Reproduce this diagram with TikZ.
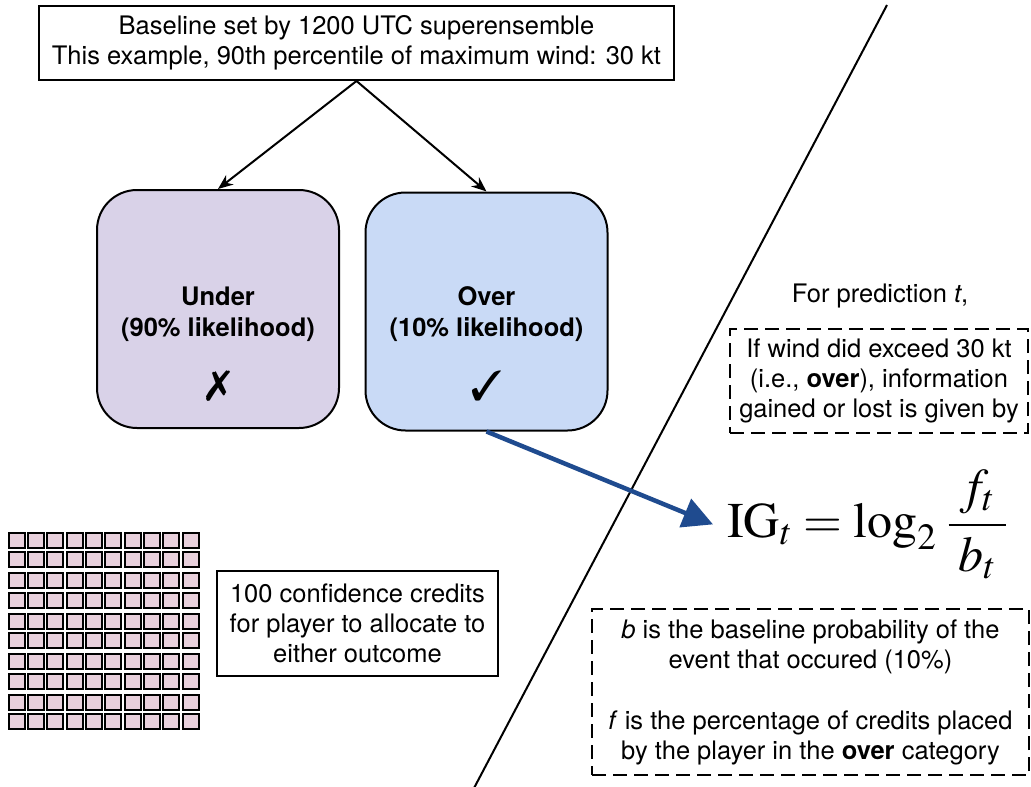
\documentclass[tikz,border=0pt]{standalone}
\usepackage{mathptmx}
\usepackage[no-math]{fontspec}
\setmainfont{TeX Gyre Heros}
\usepackage{pifont}
\usetikzlibrary{arrows.meta,positioning}

\definecolor{underfill}{HTML}{D9D2E8}
\definecolor{overfill}{HTML}{C9DAF6}
\definecolor{creditfill}{HTML}{E8D0DC}
\definecolor{igblue}{HTML}{1F4B8F}

\tikzstyle{arrow} = [line width=2pt,-{Stealth[length=15pt,width=12pt]}]
\tikzstyle{arrow_blue} = [line width=4.5pt,igblue,-{Triangle[length=30pt,width=30pt]}]
\tikzstyle{textbox} = [draw, line width=2pt, align=center, inner sep=0pt]
\tikzstyle{dashbox} = [draw, line width=2pt, dash pattern=on 14pt off 7pt, align=center, inner sep=0pt]
\tikzstyle{outcome} = [draw, line width=2pt, rounded corners=40pt, minimum width=242pt, minimum height=238pt]
\tikzstyle{credit} = [draw, line width=2pt, fill=creditfill, minimum width=16pt, minimum height=15pt, inner sep=0pt]

\begin{document}
\begin{tikzpicture}[x=1pt, y=-1pt, font=\fontsize{25.5}{30}\selectfont]
    \useasboundingbox (0,0) rectangle (1031,787);

    \node (baseline) [textbox, minimum width=635pt, minimum height=74pt] at (356.5,43) {Baseline set by 1200 UTC superensemble\\This example, 90th percentile of maximum wind: 30 kt};

    \node (under) [outcome, fill=underfill] at (218,309) {};
    \node (over) [outcome, fill=overfill] at (486.5,311.5) {};
    \node (under_text) [align=center, font=\fontsize{25.5}{31}\selectfont\bfseries] at (218,314) {Under\\(90\% likelihood)};
    \node (over_text) [align=center, font=\fontsize{25.5}{31}\selectfont\bfseries] at (486.5,314) {Over\\(10\% likelihood)};
    \node (under_mark) [font=\fontsize{42}{42}\selectfont] at (218,386) {\ding{55}};
    \node (over_mark) [font=\fontsize{42}{42}\selectfont] at (486.5,386) {\ding{51}};

    \draw [arrow] (baseline.south) -- (under.north);
    \draw [arrow] (baseline.south) -- (over.north);

    % divider
    \coordinate (div_top) at (887,5);
    \coordinate (div_bot) at (473,790);
    \draw [line width=2pt] (div_top) -- (div_bot);

    \node (pred) at (880,296) {For prediction \textit{t},};
    \node (cond) [dashbox, minimum width=298pt, minimum height=104pt] at (879,381) {If wind did exceed 30 kt\\(i.e., \textbf{over}), information\\gained or lost is given by};

    \node (ig) [anchor=base west, inner sep=0pt, font=\fontsize{50}{50}\selectfont] at (727,537) {$\mathrm{IG}_t = \log_2 \, \displaystyle\frac{\;f_t\;}{b_t}$};
    \draw [arrow_blue] (over.south) -- ([xshift=-14pt]ig.west);

    \node (defs) [dashbox, minimum width=437pt, minimum height=166pt] at (810.5,692) {\textit{b} is the baseline probability of the\\event that occured (10\%)\\[31pt]\textit{f} is the percentage of credits placed\\by the player in the \textbf{over} category};

    % 100 credits
    \foreach \col in {0,...,9} {
        \foreach \row in {0,...,9} {
            \pgfmathsetmacro{\cx}{16.5 + 19.35*\col}
            \pgfmathsetmacro{\cy}{540 + 40.5*floor(\row/2) + 19.5*mod(\row,2)}
            \node (cell-\col-\row) [credit] at (\cx,\cy) {};
        }
    }
    \node (credits) [textbox, minimum width=281pt, minimum height=105pt] at (357.5,623.5) {100 confidence credits\\for player to allocate to\\either outcome};

\end{tikzpicture}
\end{document}
